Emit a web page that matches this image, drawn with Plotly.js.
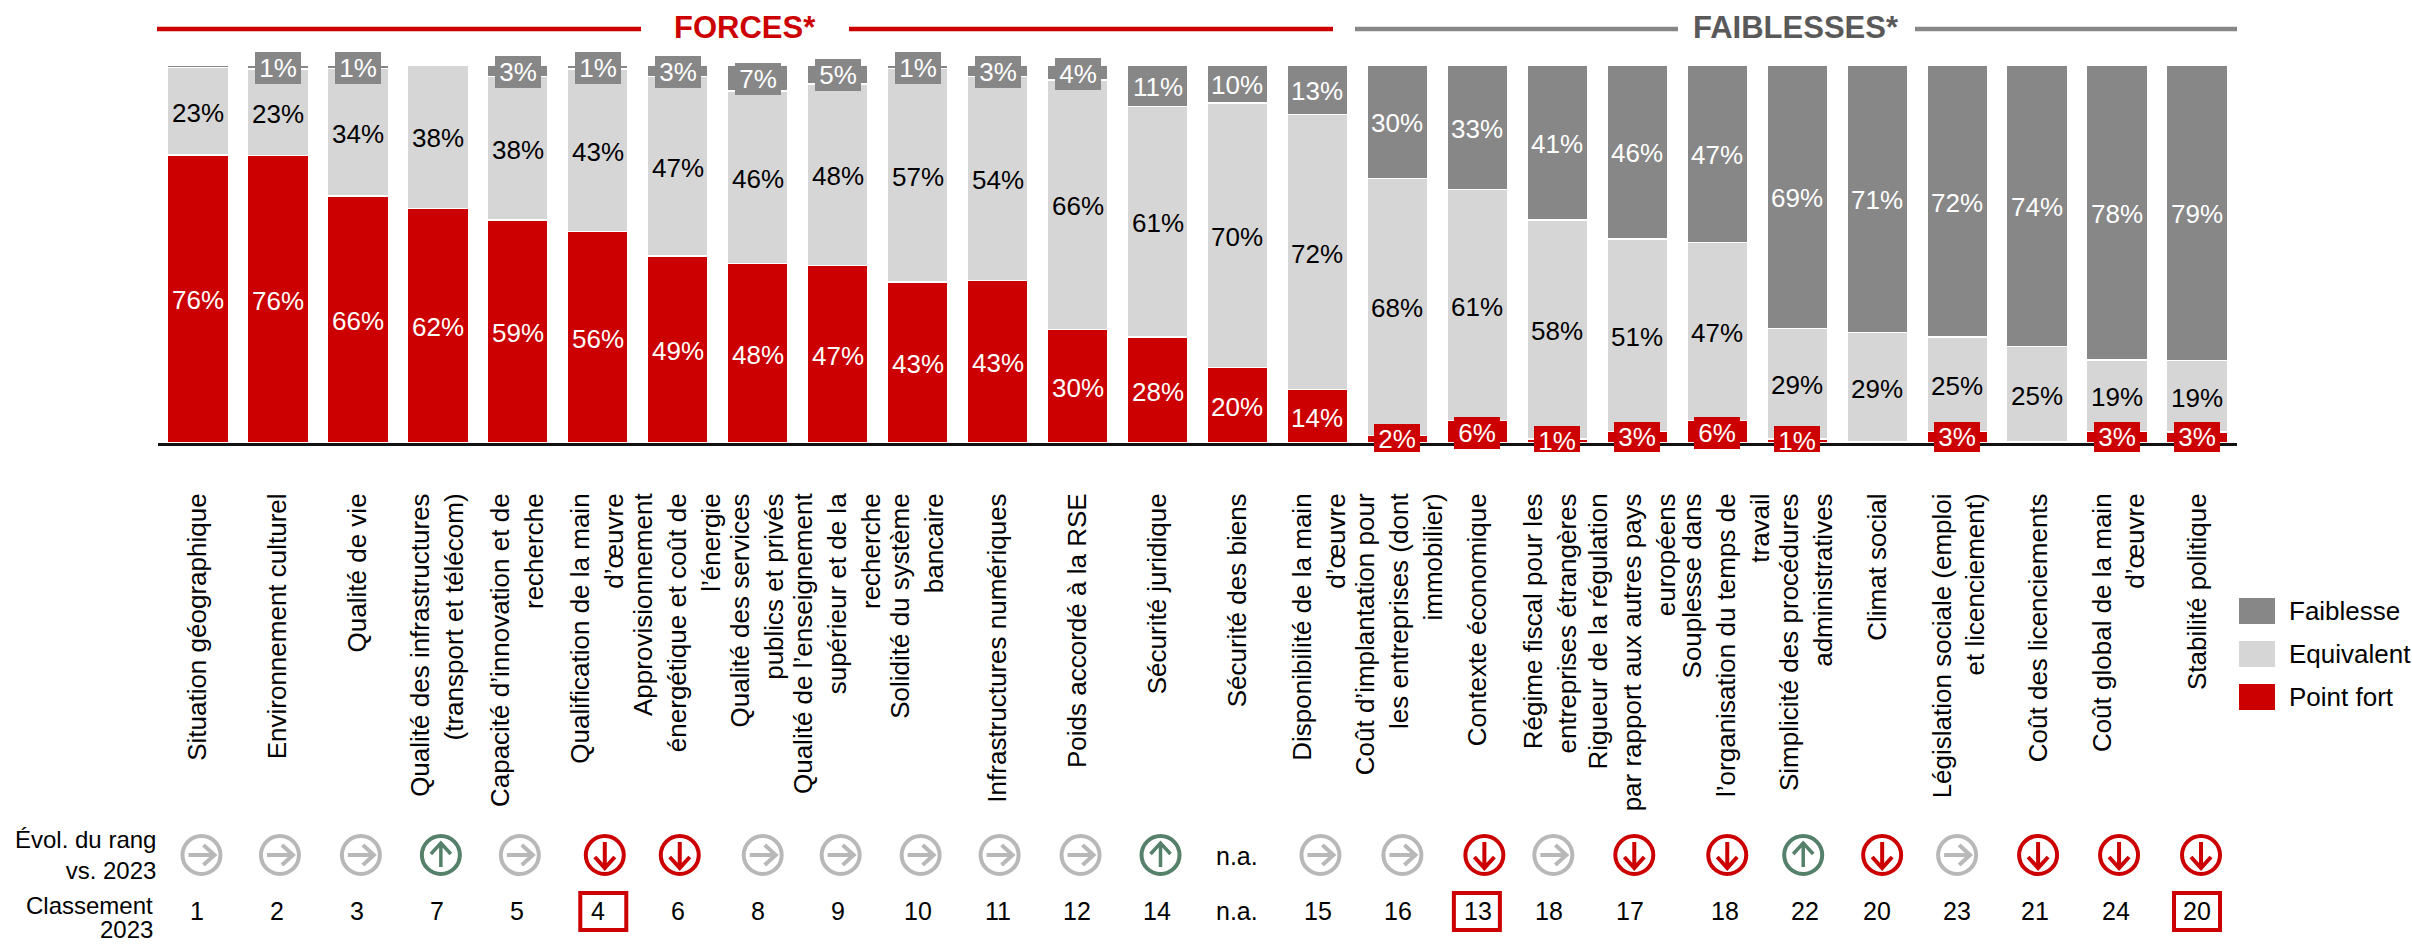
<!DOCTYPE html>
<html><head><meta charset="utf-8">
<script src="https://cdn.plot.ly/plotly-3.0.1.min.js"></script>
<style>html,body{margin:0;padding:0;background:#fff}#c{width:2412px;height:944px}</style>
</head><body><div id="c"></div>
<script>
const categories = [
"Situation géographique","Environnement culturel","Qualité de vie",
"Qualité des infrastructures<br>(transport et télécom)","Capacité d’innovation et de<br>recherche",
"Qualification de la main<br>d’œuvre","Approvisionnement<br>énergétique et coût de<br>l’énergie",
"Qualité des services<br>publics et privés","Qualité de l’enseignement<br>supérieur et de la<br>recherche",
"Solidité du système<br>bancaire","Infrastructures numériques","Poids accordé à la RSE","Sécurité juridique",
"Sécurité des biens","Disponibilité de la main<br>d’œuvre","Coût d’implantation pour<br>les entreprises (dont<br>immobilier)",
"Contexte économique","Régime fiscal pour les<br>entreprises étrangères","Rigueur de la régulation<br>par rapport aux autres pays<br>européens",
"Souplesse dans<br>l’organisation du temps de<br>travail","Simplicité des procédures<br>administratives","Climat social",
"Législation sociale (emploi<br>et licenciement)","Coût des licenciements","Coût global de la main<br>d’œuvre","Stabilité politique"];
const pointFort  = [76,76,66,62,59,56,49,48,47,43,43,30,28,20,14,2,6,1,3,6,1,0.3,3,0.3,3,3];
const equivalent = [23,23,34,38,38,43,47,46,48,57,54,66,61,70,72,68,61,58,51,47,29,29,25,25,19,19];
const faiblesse  = [0.7,1,1,0,3,1,3,7,5,1,3,4,11,10,13,30,33,41,46,47,69,71,72,74,78,79];
const evolution = ["same","same","same","up","same","down","down","same","same","same","same","same","up","na","same","same","down","same","down","down","up","down","same","down","down","down"];
const rank2023 = ["1","2","3","7","5","4","6","8","9","10","11","12","14","n.a.","15","16","13","18","17","18","22","20","23","21","24","20"];
const boxedRanks = [5,16,25];

// layout constants
const W=2412,H=944,L=158,R=2237,T=65,B=443;
const RED="#cc0000",LIGHT="#d6d6d6",DARK="#878787",GREY="#b8b8b8",GREEN="#55806a",FONT="Liberation Sans, Arial, sans-serif";
const iconNudge=[3.5,2,3,3,2,7,2,5,3,3,2,3,3,0,3,5,7,-4,-3,10,6,5,0,1,2,4];
const rankNudge=[-1,-1,-1,-1,-1,0,0,0,0,0,0,-1,-1,0,1,1,1,-8,-7,8,8,0,0,-2,-1,0];
const labelNudge=[0,0,0,0,0,0,0,0,0,0,0,0,0,0,2,2,0,-7,-5,9,9,0,2,1,2,1];
const px2x=p=>(p-L)/(R-L), py2y=p=>(B-p)/(B-T), step=(R-L)/26;
const idx=categories.map((_,i)=>i);

const mk=(name,y,color)=>({type:"bar",name,x:idx,y,hovertext:categories,marker:{color,line:{color:"#fff",width:1.5}},hoverinfo:"text+y+name"});
const data=[mk("Point fort",pointFort,RED),mk("Equivalent",equivalent,LIGHT),mk("Faiblesse",faiblesse,DARK)];

const annotations=[],shapes=[];
const FLOOR=452;
const note=(o)=>annotations.push({showarrow:false,xanchor:"center",yanchor:"middle",font:{family:FONT,size:25,color:"#000"},...o});
categories.forEach((c,i)=>{
  const total=pointFort[i]+equivalent[i]+faiblesse[i];
  let base=0;
  [[pointFort,RED,"#fff"],[equivalent,LIGHT,"#000"],[faiblesse,DARK,"#fff"]].forEach(([s,col,txt])=>{
    const v=s[i], mid=(base+v/2)/total*100; base+=v;
    if(v<1) return;
    const a={x:i,y:mid,xref:"x",yref:"y",text:Math.round(v)+"%",font:{family:FONT,size:26,color:txt},borderpad:0,borderwidth:0,yshift:-1.5};
    if(v<8){
      const cy=B-(B-T)*mid/100;
      const clipped=cy+16>FLOOR;
      const top=clipped?cy-15:cy-16, bot=clipped?FLOOR:cy+16;
      a.bgcolor=col;a.width=46;a.height=bot-top;
      a.yshift=clipped?(cy-(top+bot)/2):-1;
      a.valign=clipped?"top":"middle";
    }
    note(a);
  });
  // evolution icon
  const ix=i+iconNudge[i]/step, iy=py2y(855), ev=evolution[i];
  const base2={xref:"x",yref:"paper",xsizemode:"pixel",ysizemode:"pixel",xanchor:ix,yanchor:iy,layer:"above"};
  if(ev==="na"){
    note({xref:"x",yref:"paper",x:i,y:py2y(856),text:"n.a."});
  } else {
    const col=ev==="same"?GREY:ev==="up"?GREEN:RED, lw=ev==="up"?3.5:4;
    shapes.push({...base2,type:"circle",x0:-19,x1:19,y0:-19,y1:19,line:{color:col,width:4},fillcolor:"rgba(0,0,0,0)"});
    const path=ev==="same"?"M-13,0 L12,0 M2,-10 L13,0 L2,10":ev==="up"?"M0,-12 L0,11 M-10,1 L0,12 L10,1":"M0,13 L0,-12 M-10,-2 L0,-13 L10,-2";
    shapes.push({...base2,type:"path",path,line:{color:col,width:lw}});
  }
  // rank
  note({xref:"x",yref:"paper",x:i,xshift:rankNudge[i],y:py2y(911),text:rank2023[i]});
});
boxedRanks.forEach(i=>{
  const bx=i+(rankNudge[i]+(i===5?5.5:i===16?-1.5:0))/step;
  shapes.push({xref:"x",yref:"paper",xsizemode:"pixel",ysizemode:"pixel",xanchor:bx,yanchor:py2y(911.5),type:"rect",x0:-23,x1:23,y0:-18.5,y1:18.5,line:{color:RED,width:4},layer:"above"});
});
// section headers
const hline=(a,b,col)=>shapes.push({type:"line",xref:"paper",yref:"paper",x0:px2x(a),x1:px2x(b),y0:py2y(29),y1:py2y(29),line:{color:col,width:4.5}});
hline(157,641,RED);hline(849,1333,RED);hline(1355,1678,DARK);hline(1915,2237,DARK);
note({xref:"paper",yref:"paper",x:px2x(745),y:py2y(27),text:"<b>FORCES*</b>",font:{family:FONT,size:31,color:RED}});
note({xref:"paper",yref:"paper",x:px2x(1796),y:py2y(27),text:"<b>FAIBLESSES*</b>",font:{family:FONT,size:31,color:"#595959"}});
// row headings
note({xref:"paper",yref:"paper",x:px2x(158),xanchor:"right",align:"right",y:py2y(855),text:"Évol. du rang<br>vs. 2023",font:{family:FONT,size:24,color:"#000"}});
note({xref:"paper",yref:"paper",x:px2x(155),xanchor:"right",align:"right",y:py2y(906),text:"Classement",font:{family:FONT,size:24,color:"#000"}});
note({xref:"paper",yref:"paper",x:px2x(155),xanchor:"right",align:"right",y:py2y(929),text:"2023",font:{family:FONT,size:24,color:"#000"}});
// legend
[["Faiblesse",DARK,611],["Equivalent",LIGHT,654],["Point fort",RED,697]].forEach(([t,col,y])=>{
  shapes.push({type:"rect",xref:"paper",yref:"paper",x0:px2x(2239),x1:px2x(2275),y0:py2y(y-13),y1:py2y(y+13),fillcolor:col,line:{width:0}});
  note({xref:"paper",yref:"paper",x:px2x(2287),xanchor:"left",y:py2y(y),text:t,font:{family:FONT,size:26,color:"#000"}});
});

const layout={width:W,height:H,margin:{l:L,r:W-R,t:T,b:H-B,pad:0},paper_bgcolor:"#fff",plot_bgcolor:"#fff",
  barmode:"stack",barnorm:"percent",bargap:0.24,showlegend:false,font:{family:FONT,size:26,color:"#000"},
  xaxis:{type:"linear",range:[-0.5,25.5],tickmode:"array",tickvals:idx.map(i=>i+labelNudge[i]/step),ticktext:categories,
    tickangle:-90,tickfont:{family:FONT,size:26,color:"#000"},ticks:"",ticklen:0,ticklabelstandoff:37,
    showline:true,linecolor:"#111",linewidth:3,showgrid:false,zeroline:false,automargin:false,fixedrange:true},
  yaxis:{range:[0,100],visible:false,showgrid:false,zeroline:false,fixedrange:true},
  annotations,shapes};
Plotly.newPlot("c",data,layout,{displayModeBar:false,staticPlot:true});
</script></body></html>
